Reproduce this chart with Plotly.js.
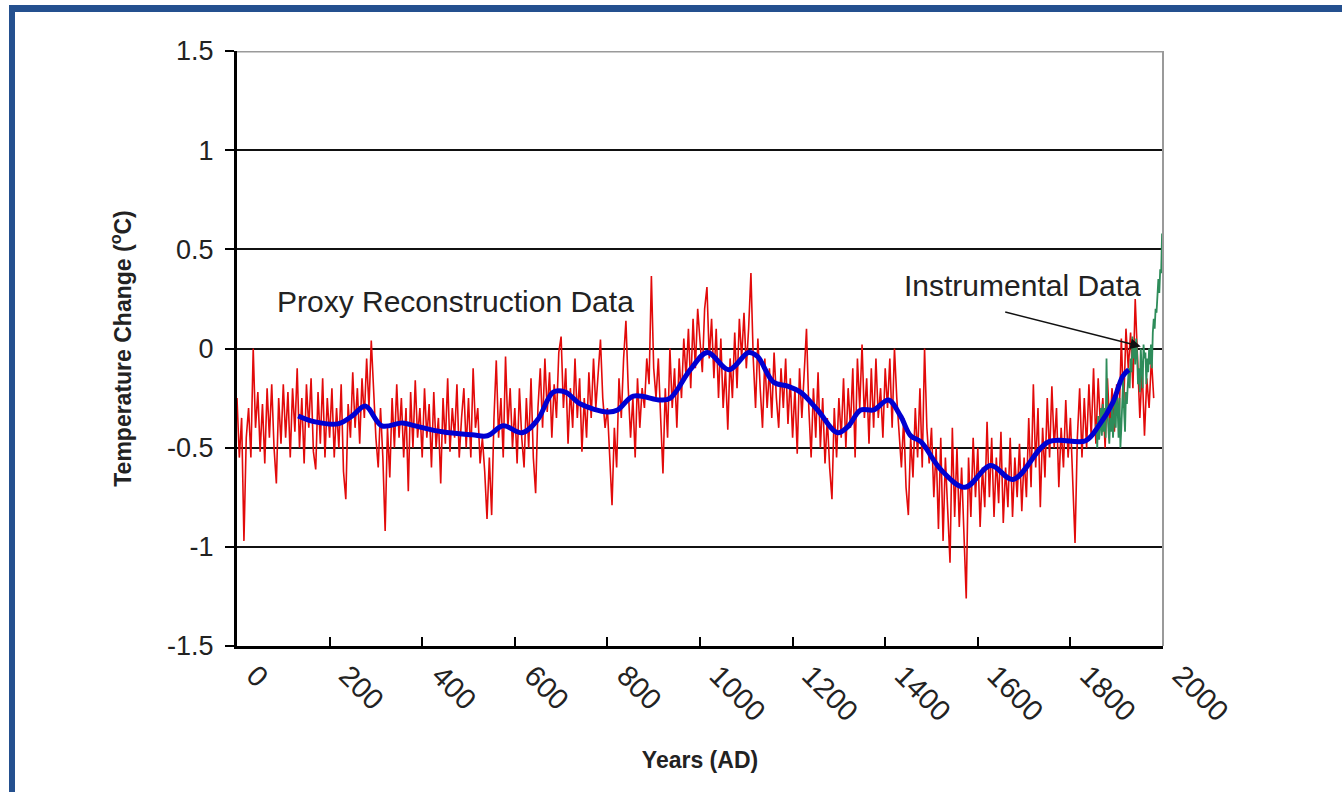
<!DOCTYPE html>
<html>
<head>
<meta charset="utf-8">
<script src="https://cdn.plot.ly/plotly-3.0.1.min.js"></script>
<style>
  html, body { margin:0; padding:0; background:#fff; overflow:hidden; }
  #chart { position:absolute; left:0; top:0; width:1342px; height:792px; }
  #frame { position:absolute; left:9px; top:5px; width:1400px; height:900px;
           border-top:7px solid #24508f; border-left:6px solid #24508f; pointer-events:none; }
</style>
</head>
<body>
<div id="chart"></div>
<div id="frame"></div>
<script>
// ---------------- DATA ----------------
// Proxy reconstruction (red), values every 5 years starting at year 0
const proxyStartYear = 0;
const proxyStepYears = 5;
const proxyValues = [
  -0.25,-0.55,-0.35,-0.97,-0.45,-0.30,-0.55,0.00,-0.40,-0.22,-0.52,-0.28,-0.58,-0.20,-0.45,-0.18,-0.50,-0.68,-0.25,-0.48,
  -0.18,-0.45,-0.22,-0.55,-0.20,-0.42,-0.10,-0.50,-0.25,-0.58,-0.18,-0.40,-0.15,-0.52,-0.61,-0.22,-0.48,-0.15,-0.55,-0.25,
  -0.45,-0.20,-0.55,-0.30,-0.50,-0.18,-0.62,-0.76,-0.28,-0.45,-0.12,-0.40,-0.20,-0.48,-0.15,-0.35,-0.05,-0.30,0.04,-0.25,
  -0.45,-0.60,-0.30,-0.55,-0.92,-0.40,-0.65,-0.25,-0.50,-0.18,-0.45,-0.25,-0.55,-0.30,-0.72,-0.22,-0.50,-0.16,-0.45,-0.30,
  -0.55,-0.20,-0.45,-0.28,-0.60,-0.22,-0.50,-0.35,-0.68,-0.25,-0.48,-0.15,-0.52,-0.30,-0.45,-0.18,-0.55,-0.35,-0.20,-0.50,
  -0.25,-0.55,-0.10,-0.40,-0.30,-0.58,-0.45,-0.62,-0.86,-0.55,-0.84,-0.35,-0.06,-0.45,-0.25,-0.55,-0.04,-0.40,-0.20,-0.50,
  -0.30,-0.58,-0.20,-0.45,-0.60,-0.25,-0.50,-0.15,-0.55,-0.73,-0.30,-0.10,-0.40,-0.05,-0.32,-0.12,-0.45,-0.18,-0.35,-0.02,
  0.06,-0.30,-0.10,-0.48,-0.20,-0.40,-0.05,-0.35,-0.15,-0.52,-0.25,-0.45,-0.12,-0.35,-0.05,-0.30,-0.15,0.045,-0.25,-0.40,
  -0.30,-0.55,-0.79,-0.40,-0.60,-0.15,-0.35,-0.05,0.14,-0.20,-0.45,-0.25,-0.55,-0.15,-0.40,-0.20,-0.30,-0.05,-0.18,0.365,
  -0.10,-0.25,-0.05,-0.35,-0.63,-0.20,-0.45,0.00,-0.30,-0.10,-0.40,-0.05,-0.25,0.05,-0.15,0.10,-0.20,0.15,-0.10,0.20,
  0.05,-0.12,0.20,0.31,-0.05,0.15,-0.15,0.10,-0.25,0.05,-0.30,-0.10,-0.41,-0.05,-0.25,0.08,-0.20,0.15,-0.05,0.18,
  -0.10,0.10,0.38,-0.05,-0.30,0.05,-0.20,-0.40,-0.05,-0.30,-0.10,-0.35,-0.02,-0.25,-0.40,-0.10,-0.30,-0.05,-0.38,-0.15,
  -0.45,-0.20,-0.53,-0.10,-0.35,-0.15,0.10,-0.30,-0.55,-0.20,-0.45,-0.12,-0.50,-0.25,-0.58,-0.35,-0.60,-0.76,-0.30,-0.55,
  -0.25,-0.45,-0.15,-0.50,-0.20,-0.40,-0.10,-0.55,-0.05,-0.30,0.02,-0.35,-0.15,-0.48,-0.10,-0.40,-0.05,-0.35,-0.20,-0.45,
  -0.10,-0.30,-0.05,-0.40,0.00,-0.25,-0.45,-0.60,-0.35,-0.70,-0.84,-0.45,-0.65,-0.30,-0.55,-0.20,-0.60,0.00,-0.40,-0.58,
  -0.40,-0.75,-0.50,-0.91,-0.45,-0.97,-0.55,-0.80,-1.08,-0.40,-0.85,-0.50,-0.90,-0.60,-0.95,-1.26,-0.55,-0.85,-0.45,-0.75,
  -0.50,-0.90,-0.60,-0.80,-0.37,-0.75,-0.45,-0.85,-0.55,-0.78,-0.42,-0.88,-0.60,-0.80,-0.45,-0.85,-0.55,-0.75,-0.48,-0.82,
  -0.55,-0.75,-0.35,-0.70,-0.18,-0.60,-0.30,-0.80,-0.40,-0.65,-0.25,-0.55,-0.19,-0.50,-0.30,-0.70,-0.40,-0.60,-0.26,-0.55,
  -0.35,-0.65,-0.98,-0.45,-0.20,-0.55,-0.25,-0.50,-0.18,-0.45,-0.10,-0.48,-0.15,-0.40,-0.25,-0.50,-0.15,-0.40,-0.20,-0.42,
  -0.18,-0.38,0.05,-0.30,0.10,-0.10,0.08,-0.20,0.25,-0.05,-0.35,-0.10,-0.44,-0.15,-0.30,-0.05,-0.25
];

// Instrumental record (green), values every 2 years starting at 1856
const instrStartYear = 1856;
const instrStepYears = 2;
const instrValues = [
  -0.38,-0.50,-0.34,-0.46,-0.40,-0.30,-0.44,-0.28,-0.42,-0.30,
  -0.45,-0.05,-0.32,-0.40,-0.48,-0.35,-0.42,-0.30,-0.45,-0.36,
  -0.25,-0.40,-0.20,-0.30,-0.45,-0.25,-0.50,-0.40,-0.30,-0.15,
  -0.32,-0.42,-0.22,-0.28,-0.18,-0.10,-0.20,-0.05,-0.12,0.06,
  -0.05,0.02,-0.08,0.05,-0.02,-0.18,-0.10,-0.22,0.00,-0.15,
  -0.20,0.02,-0.05,-0.02,-0.18,-0.05,-0.12,0.00,-0.08,0.02,
  -0.10,0.08,0.15,0.10,0.20,0.18,0.30,0.35,0.28,0.40,
  0.38,0.58
];

// Smoothed reconstruction (blue)
const smoothYears = [132,169,218,249,277,313,357,385,443,508,541,575,616,649,683,709,742,800,822,856,
  915,936,979,1016,1062,1105,1124,1159,1189,1217,1254,1297,1319,1347,1375,1407,1433,1455,1477,1520,
  1572,1628,1676,1753,1833,1861,1892,1913,1926];
const smoothValues = [-0.34,-0.37,-0.38,-0.34,-0.29,-0.39,-0.375,-0.39,-0.42,-0.435,-0.44,-0.39,-0.425,-0.36,-0.22,-0.22,-0.28,-0.32,-0.31,-0.24,
  -0.26,-0.25,-0.107,-0.02,-0.107,-0.02,-0.04,-0.17,-0.19,-0.22,-0.31,-0.425,-0.395,-0.31,-0.31,-0.26,-0.34,-0.44,-0.47,-0.61,
  -0.70,-0.59,-0.66,-0.47,-0.465,-0.39,-0.27,-0.14,-0.107];

// Axis ticks
const xTickVals = [0,200,400,600,800,1000,1200,1400,1600,1800,2000];
const xTickText = ['0','200','400','600','800','1000','1200','1400','1600','1800','2000'];
const yTickVals = [1.5,1,0.5,0,-0.5,-1,-1.5];
const yTickText = ['1.5','1','0.5','0','-0.5','-1','-1.5'];

// Labels
const proxyLabel = 'Proxy Reconstruction Data';
const instrLabel = 'Instrumental Data';
const xTitle = 'Years (AD)';
const yTitle = 'Temperature Change (<sup>o</sup>C)';

// ---------------- BUILD ----------------
const proxyYears = proxyValues.map((_, i) => proxyStartYear + i * proxyStepYears);
const instrYears = instrValues.map((_, i) => instrStartYear + i * instrStepYears);

const FONT = 'Liberation Sans, Arial, Helvetica, sans-serif';

const traces = [
  { x: proxyYears, y: proxyValues, type: 'scatter', mode: 'lines', name: 'Proxy',
    line: { color: 'rgb(226,10,10)', width: 1.6 }, hoverinfo: 'skip' },
  { x: instrYears, y: instrValues, type: 'scatter', mode: 'lines', name: 'Instrumental',
    line: { color: 'rgb(46,140,90)', width: 1.8 }, hoverinfo: 'skip' },
  { x: smoothYears, y: smoothValues, type: 'scatter', mode: 'lines', name: 'Smoothed',
    line: { color: 'rgb(0,0,210)', width: 5, shape: 'spline', smoothing: 1 }, hoverinfo: 'skip' }
];

const layout = {
  width: 1342, height: 792,
  margin: { l: 237, r: 179, t: 51, b: 146, pad: 0 },
  paper_bgcolor: 'rgba(0,0,0,0)', plot_bgcolor: '#fff',
  showlegend: false,
  font: { family: FONT, color: '#222' },
  xaxis: {
    range: [0, 2000], tickmode: 'array', tickvals: xTickVals, ticktext: xTickText,
    tickangle: 45, ticks: 'inside', ticklen: 9, tickwidth: 2, tickcolor: '#000',
    showline: true, linecolor: '#000', linewidth: 3, showgrid: false, zeroline: false,
    ticklabelshift: 18, ticklabelstandoff: -2,
    tickfont: { family: FONT, size: 29, color: '#222' },
    automargin: false,
    title: { text: '<b>' + xTitle + '</b>', font: { family: FONT, size: 23, color: '#222' }, standoff: 26 }
  },
  yaxis: {
    range: [-1.5, 1.5], tickmode: 'array', tickvals: yTickVals, ticktext: yTickText,
    ticks: 'outside', ticklen: 9, tickwidth: 2, tickcolor: '#000',
    showline: true, linecolor: '#000', linewidth: 3, showgrid: true, gridcolor: '#111', gridwidth: 2,
    zeroline: false, ticklabelstandoff: 6,
    tickfont: { family: FONT, size: 27, color: '#222' },
    automargin: false,
    title: { text: '<b>' + yTitle + '</b>', font: { family: FONT, size: 23, color: '#222' }, standoff: 30 }
  },
  shapes: [
    { type: 'line', xref: 'paper', yref: 'y', x0: 0, x1: 1, y0: 1.5, y1: 1.5,
      line: { color: '#9a9a9a', width: 3 }, layer: 'above' },
    { type: 'line', xref: 'paper', yref: 'paper', x0: 1, x1: 1, y0: 0, y1: 1,
      line: { color: '#9a9a9a', width: 2 }, layer: 'above' }
  ],
  annotations: [
    { x: 471, y: 0.235, xref: 'x', yref: 'y', text: proxyLabel, showarrow: false,
      font: { family: FONT, size: 30, color: '#222' } },
    { x: 1696, y: 0.32, xref: 'x', yref: 'y', text: instrLabel, showarrow: false,
      font: { family: FONT, size: 30, color: '#222' } },
    { x: 1952, y: 0.01, xref: 'x', yref: 'y', ax: 1656, ay: 0.186, axref: 'x', ayref: 'y',
      text: '', showarrow: true, arrowhead: 2, arrowsize: 1.4, arrowwidth: 1.5, arrowcolor: '#111' }
  ]
};

Plotly.newPlot('chart', traces, layout, { displayModeBar: false, staticPlot: true });
</script>
</body>
</html>
